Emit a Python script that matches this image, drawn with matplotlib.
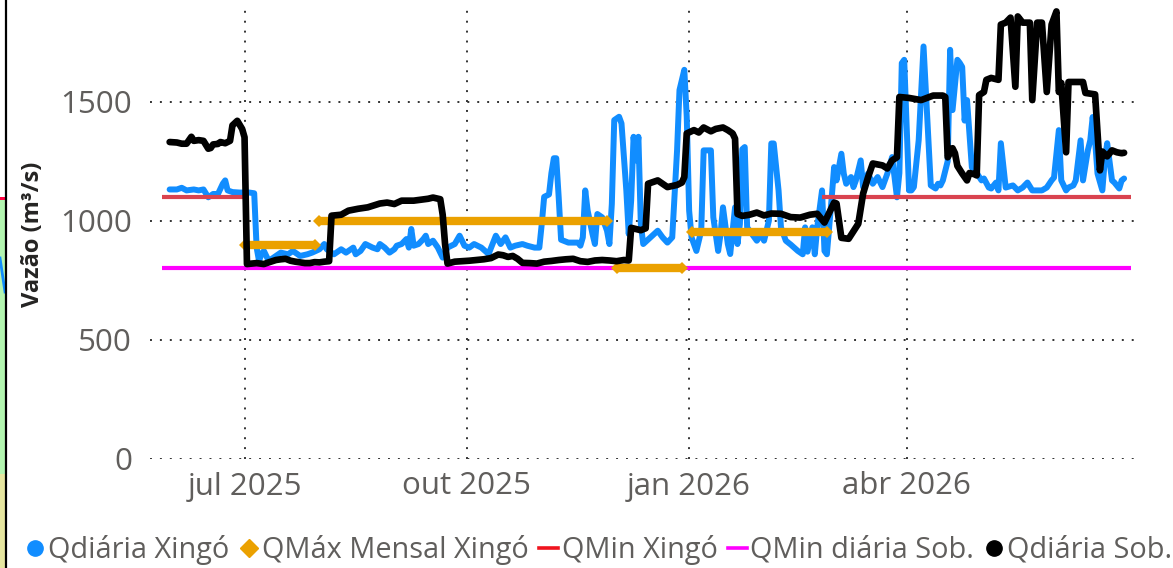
import numpy as np
import matplotlib
matplotlib.use("Agg")
import matplotlib.pyplot as plt
from matplotlib.lines import Line2D
from matplotlib.patches import Rectangle

plt.rcParams['font.family'] = ['Open Sans', 'DejaVu Sans']

BASE = np.datetime64('2025-07-01')

# ---- Qdiária Xingó (days from 2025-07-01, m3/s) ----
blue_days = [-31, -28, -26, -24, -21, -19, -17, -15, -13, -11, -9, -8, -7, -5, -2, 2, 4, 5, 6, 7, 8, 10, 12, 15, 18,
             20, 23, 26, 28, 31, 33, 34, 37, 40, 42, 45, 46, 48, 50, 53, 55, 56, 58, 60, 62, 63, 65, 67, 68, 69, 70,
             72, 74, 75, 76, 78, 80, 82, 84, 87, 89, 91, 93, 95, 98, 101, 104, 106, 108, 110, 112, 115, 117, 120,
             122, 123, 124, 126, 127, 128, 129, 130, 131, 134, 138, 139, 140, 141, 142, 144, 145, 146, 148, 150,
             151, 152, 153, 155, 156, 158, 159, 160, 161, 162, 163, 164, 165, 168, 171, 173, 175, 177, 179, 180,
             182, 183, 184, 185, 187, 189, 190, 193, 194, 196, 197, 198, 200, 201, 203, 204, 205, 206, 207, 208,
             210, 212, 214, 215, 217, 218, 219, 221, 222, 224, 226, 229, 231, 232, 233, 235, 236, 237, 239, 240,
             241, 243, 244, 245, 247, 248, 249, 251, 252, 253, 255, 256, 258, 260, 262, 264, 266, 268, 270, 271,
             272, 273, 274, 275, 276, 277, 279, 281, 283, 284, 286, 287, 288, 289, 291, 292, 293, 295, 296, 297,
             298, 299, 301, 303, 305, 306, 308, 309, 311, 312, 313, 315, 318, 320, 322, 324, 326, 330, 332, 334,
             335, 337, 338, 340, 341, 343, 344, 346, 347, 349, 350, 351, 352, 353, 355, 356, 357, 359, 360, 362,
             363, 364]
blue_vals = [1131, 1131, 1138, 1127, 1131, 1127, 1131, 1098, 1112, 1112, 1155, 1169, 1127, 1120, 1118, 1118, 1115,
             887, 831, 860, 873, 831, 845, 866, 859, 873, 852, 859, 866, 880, 902, 880, 859, 880, 866, 887, 859,
             873, 902, 887, 880, 902, 887, 866, 880, 895, 902, 923, 887, 965, 895, 902, 923, 937, 902, 916, 887,
             845, 887, 902, 937, 895, 887, 902, 887, 860, 937, 902, 930, 887, 895, 902, 895, 887, 887, 986, 1100,
             1110, 1200, 1262, 1262, 1100, 920, 908, 908, 895, 930, 1127, 1042, 944, 902, 1028, 1014, 958, 902,
             1070, 1422, 1436, 1408, 1127, 944, 1084, 1352, 1253, 1352, 986, 902, 930, 958, 930, 908, 930, 1295,
             1548, 1633, 1436, 1042, 930, 873, 958, 1295, 1295, 1014, 873, 944, 1056, 902, 860, 1056, 902, 986,
             1300, 1309, 972, 944, 916, 944, 916, 1000, 1324, 1324, 1127, 972, 916, 900, 873, 859, 972, 870, 972,
             859, 972, 1127, 873, 859, 1098, 1225, 1169, 1281, 1197, 1155, 1183, 1141, 1169, 1253, 1141, 1197,
             1155, 1183, 1141, 1197, 1267, 1098, 1200, 1661, 1675, 1400, 1127, 1127, 1141, 1338, 1731, 1338, 1148,
             1135, 1155, 1148, 1169, 1250, 1717, 1464, 1675, 1662, 1645, 1420, 1506, 1224, 1200, 1169, 1177, 1139,
             1135, 1160, 1127, 1325, 1139, 1148, 1127, 1139, 1160, 1127, 1127, 1139, 1169, 1181, 1380, 1169, 1127,
             1139, 1148, 1169, 1337, 1169, 1295, 1337, 1435, 1337, 1198, 1127, 1253, 1325, 1169, 1160, 1135, 1169,
             1177]

# ---- Qdiária Sob. ----
black_days = [-31, -28, -26, -24, -22, -21, -19, -17, -15, -14, -13, -11, -10, -8, -7, -6, -5, -3, -1, 0, 1, 3, 5,
              8, 10, 13, 15, 17, 19, 21, 23, 25, 27, 29, 31, 33, 35, 36, 40, 43, 47, 51, 56, 59, 62, 65, 70, 76,
              78, 81, 82, 83, 84, 87, 90, 93, 96, 99, 102, 105, 107, 109, 111, 113, 115, 118, 121, 124, 127, 130,
              133, 136, 139, 142, 145, 148, 151, 154, 157, 159, 160, 164, 166, 167, 171, 175, 179, 181, 182, 183,
              186, 188, 190, 193, 195, 198, 200, 202, 203, 204, 206, 209, 212, 215, 218, 222, 226, 230, 234, 237,
              240, 244, 245, 247, 250, 254, 256, 258, 260, 264, 266, 268, 270, 271, 275, 280, 285, 289, 290, 291,
              293, 294, 295, 297, 299, 300, 302, 303, 304, 306, 307, 309, 312, 313, 315, 317, 319, 320, 322, 325,
              326, 328, 330, 332, 334, 336, 337, 338, 340, 341, 347, 348, 352, 354, 355, 357, 359, 361, 363, 364]
black_vals = [1330, 1328, 1323, 1323, 1352, 1335, 1338, 1335, 1302, 1305, 1320, 1322, 1330, 1325, 1330, 1335,
              1400, 1419, 1385, 1350, 818, 820, 822, 818, 825, 835, 838, 840, 832, 828, 825, 822, 822, 826, 825,
              828, 830, 1021, 1025, 1042, 1050, 1056, 1072, 1076, 1070, 1084, 1084, 1092, 1097, 1090, 1025, 900,
              820, 828, 830, 832, 835, 838, 843, 858, 855, 848, 852, 840, 823, 822, 820, 828, 831, 835, 838, 840,
              830, 827, 833, 835, 833, 830, 835, 833, 970, 960, 968, 1155, 1169, 1141, 1150, 1160, 1183, 1366,
              1380, 1370, 1391, 1375, 1385, 1391, 1380, 1366, 1344, 1028, 1020, 1025, 1034, 1022, 1030, 1029,
              1015, 1013, 1025, 1029, 992, 1076, 1072, 928, 924, 987, 1114, 1181, 1240, 1232, 1219, 1253, 1266,
              1519, 1515, 1506, 1525, 1525, 1519, 1266, 1304, 1283, 1230, 1198, 1169, 1200, 1195, 1190, 1527,
              1540, 1591, 1599, 1591, 1823, 1831, 1852, 1562, 1857, 1831, 1831, 1506, 1831, 1831, 1540, 1823,
              1878, 1540, 1578, 1287, 1582, 1582, 1536, 1530, 1211, 1290, 1270, 1295, 1287, 1283, 1285]

# ---- QMáx Mensal Xingó (monthly segments: first day, last day, value) ----
qmax_start = ['2025-07-01', '2025-08-01', '2025-12-02', '2026-01-02']
qmax_end = ['2025-07-30', '2025-11-28', '2025-12-29', '2026-02-27']
qmax_vals = [900, 1000, 800, 952]

# ---- QMin Xingó (segments) ----
qmin_start = ['2025-05-28', '2026-02-25']
qmin_end = ['2025-07-02', '2026-07-03']
qmin_val = 1100

# ---- QMin diária Sob. ----
qmin_sob_start = '2025-05-28'
qmin_sob_end = '2026-07-03'
qmin_sob_val = 800

x_ticks = ['2025-07-01', '2025-10-01', '2026-01-01', '2026-04-01']
x_labels = ['jul 2025', 'out 2025', 'jan 2026', 'abr 2026']
y_ticks = [0, 500, 1000, 1500]

C_BLUE = '#118DFF'
C_ORANGE = '#EBA100'
C_RED = '#D9434F'
C_MAG = '#FF00FF'
C_BLACK = '#000000'
C_TXT = '#605E5C'

W, H = 1173, 568
fig = plt.figure(figsize=(W / 100, H / 100), dpi=100)
ax = fig.add_axes([150 / W, 1 - 459 / H, 990 / W, 454 / H])

bd = BASE + np.array(blue_days, dtype='timedelta64[D]')
kd = BASE + np.array(black_days, dtype='timedelta64[D]')

ax.plot(bd, blue_vals, color=C_BLUE, lw=4.3, solid_joinstyle='round', solid_capstyle='round', zorder=3)
for s, e in zip(qmin_start, qmin_end):
    ax.plot([np.datetime64(s), np.datetime64(e)], [qmin_val, qmin_val], color=C_RED, lw=3.0,
            solid_capstyle='butt', zorder=4)
ax.plot([np.datetime64(qmin_sob_start), np.datetime64(qmin_sob_end)], [qmin_sob_val] * 2, color=C_MAG,
        lw=3.0, solid_capstyle='butt', zorder=4)
for s, e, v in zip(qmax_start, qmax_end, qmax_vals):
    xs = [np.datetime64(s), np.datetime64(e)]
    ax.plot(xs, [v, v], color=C_ORANGE, lw=6.0, solid_capstyle='butt', zorder=5)
    ax.plot(xs, [v, v], color=C_ORANGE, lw=0, marker='D', markersize=6.5, markeredgewidth=0, zorder=5)
ax.plot(kd, black_vals, color=C_BLACK, lw=4.8, solid_joinstyle='round', solid_capstyle='round', zorder=6)

ax.set_xlim(BASE - np.timedelta64(939, 'h'), BASE + np.timedelta64(8894, 'h'))
ax.set_ylim(0, 1905)
ax.set_xticks([np.datetime64(t) for t in x_ticks])
ax.set_xticklabels(x_labels)
ax.set_yticks(y_ticks)
ax.set_yticklabels([str(v) for v in y_ticks])
ax.tick_params(length=0, labelsize=22.5, colors=C_TXT)
ax.tick_params(axis='y', pad=13)
ax.tick_params(axis='x', pad=9)
for sp in ax.spines.values():
    sp.set_visible(False)
ax.grid(True, linestyle=(0, (1, 4.1)), linewidth=1.4, color='#333333', zorder=0)
ax.set_axisbelow(True)

ax.set_ylabel('Vazão (m³/s)', fontsize=17, fontweight='bold', color='#252423')
ax.yaxis.set_label_coords(-0.106, 0.495)

handles = [
    Line2D([], [], color=C_BLUE, marker='o', linestyle='None', markersize=11),
    Line2D([], [], color=C_ORANGE, marker='D', linestyle='None', markersize=9),
    Line2D([], [], color='#F0141E', lw=2.6),
    Line2D([], [], color=C_MAG, lw=2.6),
    Line2D([], [], color=C_BLACK, marker='o', linestyle='None', markersize=11),
]
labels = ['Qdiária Xingó', 'QMáx Mensal Xingó', 'QMin Xingó', 'QMin diária Sob.', 'Qdiária Sob.']
leg = fig.legend(handles, labels, loc='center left', bbox_to_anchor=(26 / W, 1 - 550 / H), ncol=5,
                 frameon=False, fontsize=20.8, handlelength=0.65, handletextpad=0.12, columnspacing=0.36,
                 borderaxespad=0, borderpad=0)
for t in leg.get_texts():
    t.set_color(C_TXT)

# left-edge remnants of neighbouring visual
fig.add_artist(Rectangle((0, 0), 5 / W, 1 - 474 / H, transform=fig.transFigure, color='#E6E6A0', lw=0))
fig.add_artist(Rectangle((0, 1 - 474 / H), 5 / W, 274 / H, transform=fig.transFigure, color='#B3F5B0', lw=0))
fig.add_artist(Rectangle((0, 1 - 200 / H), 5 / W, 3 / H, transform=fig.transFigure, color='#FF0040', lw=0))
fig.add_artist(Line2D([0, 5 / W], [1 - 258 / H, 1 - 292 / H], transform=fig.transFigure, color=C_BLUE, lw=2))
fig.add_artist(Line2D([6 / W, 6 / W], [0, 1], transform=fig.transFigure, color='black', lw=1.6))

fig.savefig('out.png', dpi=100)
